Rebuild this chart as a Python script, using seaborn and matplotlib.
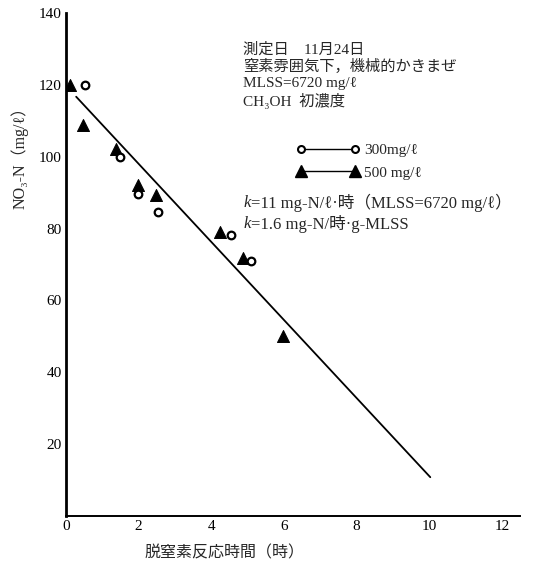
import seaborn as sns
import matplotlib.pyplot as plt
import pandas as pd
from matplotlib.lines import Line2D

sns.set_theme(style="ticks")
plt.rcParams['font.family'] = ['Liberation Serif', 'Noto Sans CJK JP', 'DejaVu Serif']

# CH3OH 300 mg/l (open circles)
t_300 = [0.52, 1.49, 1.99, 2.52, 4.55, 5.10]
no3_300 = [120.0, 99.9, 89.6, 84.6, 78.1, 71.1]
# CH3OH 500 mg/l (filled triangles)
t_500 = [0.10, 0.48, 1.37, 1.99, 2.48, 4.24, 4.86, 5.97]
no3_500 = [120.0, 108.7, 102.1, 92.0, 89.4, 79.1, 71.7, 50.1]
# fitted line
fit_t = [0.28, 10.03]
fit_no3 = [116.7, 10.8]

x_ticks = [0, 2, 4, 6, 8, 10, 12]
y_ticks = [20, 40, 60, 80, 100, 120, 140]

note_lines = ['測定日　11月24日', '窒素雰囲気下，機械的かきまぜ',
              'MLSS=6720 mg/ℓ', 'CH₃OH  初濃度']
legend_labels = ['300mg/ℓ', '500 mg/ℓ']
k_lines = ['=11 mg-N/ℓ·時（MLSS=6720 mg/ℓ）', '=1.6 mg-N/時·g-MLSS']

df300 = pd.DataFrame({'t': t_300, 'no3': no3_300})
df500 = pd.DataFrame({'t': t_500, 'no3': no3_500})
dffit = pd.DataFrame({'t': fit_t, 'no3': fit_no3})

fig = plt.figure(figsize=(5.49, 5.63), dpi=100)
ax = fig.add_axes([66/549, 1 - 516/563, (520 - 66)/549, (516 - 13)/563])

sns.lineplot(data=dffit, x='t', y='no3', color='black', linewidth=1.3, ax=ax)
sns.scatterplot(data=df500, x='t', y='no3', marker='^', s=75, color='black',
                edgecolor='black', ax=ax, zorder=3)
sns.scatterplot(data=df300, x='t', y='no3', marker='o', s=30, facecolor='white',
                edgecolor='black', linewidth=1.6, ax=ax, zorder=4)

ax.set_xlim(0, 12.5)
ax.set_ylim(0, 140)
ax.set_xticks(x_ticks)
ax.set_yticks(y_ticks)
ax.tick_params(length=0, labelsize=11, colors='black', pad=3)
sns.despine(ax=ax)
ax.spines['left'].set_linewidth(2)
ax.spines['bottom'].set_linewidth(1.4)
ax.spines['left'].set_color('black')
ax.spines['bottom'].set_color('black')

ax.set_xlabel('脱窒素反応時間（時）', fontsize=11.5)
ax.xaxis.set_label_coords(0.35, -0.058)
ax.set_ylabel('NO₃-N（mg/ℓ）', fontsize=11.5)
ax.yaxis.set_label_coords(-0.082, 0.72)

# condition notes, one line at a time
for line, yy in zip(note_lines, [0.928, 0.894, 0.860, 0.826]):
    ax.text(0.390, yy, line, transform=ax.transAxes, fontsize=11,
            va='center', ha='left')

handles = [
    Line2D([], [], color='black', linewidth=1, marker='o', markersize=5,
           markerfacecolor='white', markeredgewidth=1.5),
    Line2D([], [], color='black', linewidth=1, marker='^', markersize=8,
           markerfacecolor='black'),
]
ax.legend(handles, legend_labels, numpoints=2, frameon=False,
          fontsize=11, loc='upper left', bbox_to_anchor=(0.508, 0.740),
          handlelength=4.1, handletextpad=0.3, labelspacing=0.55,
          borderpad=0, borderaxespad=0)

kx = 0.390
for line, yy in zip(k_lines, [0.622, 0.580]):
    ax.text(kx, yy, 'k', style='italic', transform=ax.transAxes,
            fontsize=12, va='center', ha='left')
    ax.text(kx + 0.018, yy, line, transform=ax.transAxes,
            fontsize=12, va='center', ha='left')

fig.savefig('out.png', dpi=100)
